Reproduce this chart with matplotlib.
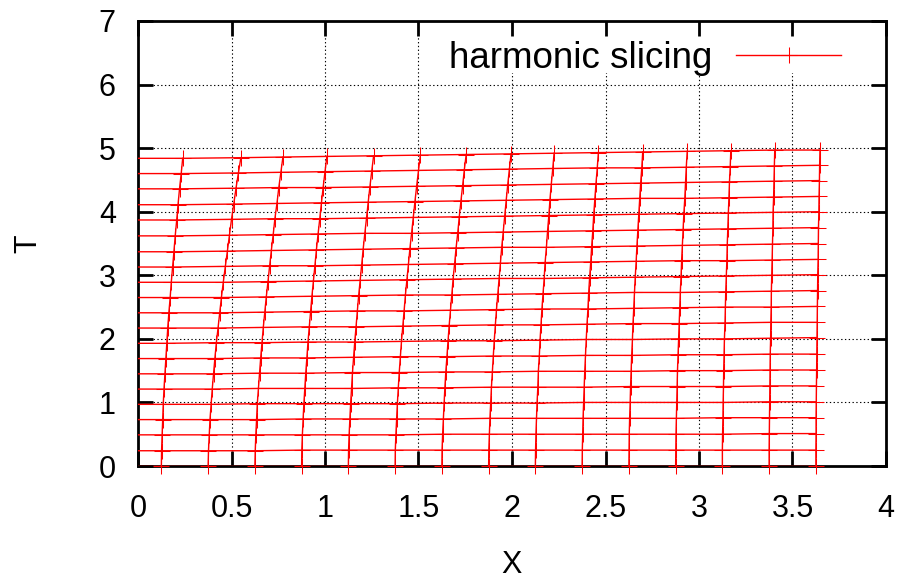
import numpy as np
import matplotlib.pyplot as plt
from matplotlib.patches import Rectangle

plt.rcParams['font.family'] = ['Liberation Sans', 'DejaVu Sans']

# world lines: X of each grid column at every slice (row 0 = T 0 ... row 20 = last slice)
# column 0 is the ghost point on the other side of X = 0
xcols = [
    [-0.125, -0.126, -0.129, -0.132, -0.135, -0.139, -0.144, -0.149, -0.154, -0.159, -0.165, -0.172, -0.178, -0.185, -0.192, -0.199, -0.207, -0.214, -0.222, -0.231, -0.239],
    [0.125, 0.126, 0.129, 0.132, 0.135, 0.139, 0.144, 0.149, 0.154, 0.159, 0.165, 0.172, 0.178, 0.185, 0.192, 0.199, 0.207, 0.214, 0.222, 0.231, 0.239],
    [0.375, 0.377, 0.381, 0.385, 0.391, 0.397, 0.404, 0.411, 0.419, 0.428, 0.437, 0.446, 0.456, 0.467, 0.478, 0.489, 0.500, 0.512, 0.524, 0.537, 0.550],
    [0.625, 0.627, 0.630, 0.634, 0.638, 0.644, 0.650, 0.656, 0.663, 0.670, 0.678, 0.686, 0.695, 0.704, 0.713, 0.723, 0.732, 0.743, 0.753, 0.764, 0.775],
    [0.875, 0.876, 0.879, 0.883, 0.887, 0.892, 0.897, 0.903, 0.909, 0.916, 0.923, 0.930, 0.938, 0.946, 0.954, 0.963, 0.972, 0.981, 0.990, 1.000, 1.010],
    [1.125, 1.126, 1.129, 1.133, 1.137, 1.142, 1.147, 1.153, 1.159, 1.166, 1.173, 1.180, 1.188, 1.196, 1.204, 1.213, 1.222, 1.231, 1.240, 1.250, 1.260],
    [1.375, 1.376, 1.379, 1.383, 1.387, 1.392, 1.397, 1.403, 1.409, 1.416, 1.423, 1.430, 1.438, 1.446, 1.454, 1.463, 1.472, 1.481, 1.490, 1.500, 1.510],
    [1.625, 1.626, 1.629, 1.633, 1.637, 1.641, 1.646, 1.652, 1.658, 1.664, 1.671, 1.678, 1.685, 1.693, 1.701, 1.710, 1.718, 1.727, 1.736, 1.745, 1.755],
    [1.875, 1.876, 1.879, 1.882, 1.886, 1.890, 1.895, 1.900, 1.905, 1.911, 1.917, 1.924, 1.931, 1.938, 1.945, 1.953, 1.961, 1.969, 1.977, 1.986, 1.995],
    [2.125, 2.126, 2.128, 2.131, 2.134, 2.138, 2.141, 2.146, 2.150, 2.155, 2.160, 2.166, 2.172, 2.177, 2.184, 2.190, 2.197, 2.203, 2.210, 2.218, 2.225],
    [2.375, 2.376, 2.378, 2.380, 2.383, 2.386, 2.389, 2.393, 2.397, 2.401, 2.406, 2.410, 2.415, 2.421, 2.426, 2.432, 2.437, 2.443, 2.449, 2.456, 2.462],
    [2.625, 2.626, 2.627, 2.629, 2.632, 2.634, 2.637, 2.640, 2.644, 2.647, 2.651, 2.655, 2.659, 2.664, 2.668, 2.673, 2.678, 2.683, 2.688, 2.694, 2.699],
    [2.875, 2.876, 2.877, 2.879, 2.881, 2.883, 2.885, 2.888, 2.891, 2.894, 2.897, 2.900, 2.904, 2.907, 2.911, 2.915, 2.919, 2.924, 2.928, 2.932, 2.937],
    [3.125, 3.125, 3.126, 3.128, 3.129, 3.131, 3.132, 3.134, 3.136, 3.139, 3.141, 3.143, 3.146, 3.149, 3.151, 3.154, 3.157, 3.160, 3.163, 3.167, 3.170],
    [3.375, 3.375, 3.376, 3.377, 3.378, 3.379, 3.380, 3.381, 3.383, 3.384, 3.386, 3.387, 3.389, 3.391, 3.393, 3.395, 3.396, 3.399, 3.401, 3.403, 3.405],
    [3.625, 3.625, 3.626, 3.626, 3.627, 3.628, 3.629, 3.630, 3.631, 3.632, 3.633, 3.634, 3.635, 3.637, 3.638, 3.639, 3.641, 3.642, 3.644, 3.645, 3.647],
]

# slices: T of each grid point along a slice (columns 0..15)
trows = [
    [0.00] * 16,
    [0.24, 0.24, 0.24, 0.24, 0.25, 0.25, 0.25, 0.25, 0.25, 0.25, 0.25, 0.25, 0.25, 0.25, 0.25, 0.25],
    [0.49, 0.49, 0.49, 0.49, 0.49, 0.49, 0.49, 0.50, 0.50, 0.50, 0.50, 0.50, 0.50, 0.50, 0.51, 0.51],
    [0.73, 0.73, 0.73, 0.73, 0.74, 0.74, 0.74, 0.74, 0.75, 0.75, 0.75, 0.75, 0.75, 0.76, 0.76, 0.76],
    [0.97, 0.97, 0.97, 0.98, 0.98, 0.98, 0.98, 0.99, 0.99, 0.99, 1.00, 1.00, 1.00, 1.00, 1.01, 1.01],
    [1.21, 1.21, 1.21, 1.22, 1.22, 1.22, 1.23, 1.23, 1.24, 1.24, 1.24, 1.25, 1.25, 1.25, 1.26, 1.26],
    [1.45, 1.45, 1.45, 1.46, 1.46, 1.47, 1.47, 1.48, 1.48, 1.49, 1.49, 1.49, 1.50, 1.50, 1.51, 1.51],
    [1.69, 1.69, 1.69, 1.70, 1.70, 1.71, 1.72, 1.72, 1.73, 1.73, 1.74, 1.74, 1.75, 1.75, 1.76, 1.76],
    [1.93, 1.93, 1.94, 1.94, 1.95, 1.95, 1.96, 1.97, 1.97, 1.98, 1.99, 1.99, 2.00, 2.00, 2.01, 2.02],
    [2.17, 2.17, 2.17, 2.18, 2.19, 2.19, 2.20, 2.21, 2.22, 2.22, 2.23, 2.24, 2.24, 2.25, 2.26, 2.26],
    [2.41, 2.41, 2.41, 2.42, 2.43, 2.44, 2.44, 2.45, 2.46, 2.47, 2.47, 2.48, 2.49, 2.50, 2.50, 2.51],
    [2.65, 2.65, 2.65, 2.66, 2.67, 2.68, 2.69, 2.69, 2.70, 2.71, 2.72, 2.73, 2.73, 2.74, 2.75, 2.76],
    [2.89, 2.89, 2.89, 2.90, 2.91, 2.92, 2.93, 2.94, 2.95, 2.95, 2.96, 2.97, 2.98, 2.99, 3.00, 3.01],
    [3.13, 3.13, 3.14, 3.15, 3.15, 3.16, 3.17, 3.18, 3.19, 3.20, 3.21, 3.22, 3.23, 3.23, 3.24, 3.25],
    [3.37, 3.37, 3.38, 3.39, 3.40, 3.41, 3.42, 3.43, 3.44, 3.44, 3.45, 3.46, 3.47, 3.48, 3.49, 3.50],
    [3.62, 3.62, 3.63, 3.64, 3.65, 3.66, 3.66, 3.67, 3.68, 3.69, 3.70, 3.71, 3.72, 3.73, 3.74, 3.75],
    [3.87, 3.87, 3.88, 3.89, 3.89, 3.90, 3.91, 3.92, 3.93, 3.94, 3.95, 3.96, 3.97, 3.98, 3.99, 4.00],
    [4.11, 4.11, 4.12, 4.13, 4.14, 4.15, 4.16, 4.17, 4.18, 4.19, 4.20, 4.21, 4.21, 4.22, 4.23, 4.24],
    [4.36, 4.36, 4.37, 4.38, 4.38, 4.39, 4.40, 4.41, 4.42, 4.43, 4.44, 4.45, 4.46, 4.47, 4.48, 4.49],
    [4.60, 4.60, 4.61, 4.62, 4.63, 4.64, 4.65, 4.66, 4.67, 4.68, 4.69, 4.69, 4.70, 4.71, 4.72, 4.73],
    [4.84, 4.84, 4.85, 4.86, 4.87, 4.88, 4.89, 4.90, 4.91, 4.92, 4.93, 4.94, 4.95, 4.96, 4.97, 4.97],
]

xticks = [0, 0.5, 1, 1.5, 2, 2.5, 3, 3.5, 4]
xticklabels = ['0', '0.5', '1', '1.5', '2', '2.5', '3', '3.5', '4']
yticks = [0, 1, 2, 3, 4, 5, 6, 7]

X = np.array(xcols).T   # shape (rows, cols)
T = np.array(trows)

FS = 22
fig = plt.figure(figsize=(9.02, 5.78), dpi=100)
ax = fig.add_axes([138 / 902, 1 - 466 / 578, 748 / 902, 445 / 578])
ax.set_xlim(0, 4)
ax.set_ylim(0, 7)

# dotted grid drawn by hand so the key box can blank it
gridstyle = dict(color='black', lw=0.8, linestyle=(0, (1.2, 2.2)), zorder=1.0)
for xv in xticks[1:-1]:
    ax.axvline(xv, **gridstyle)
for yv in yticks[1:-1]:
    ax.axhline(yv, **gridstyle)
# opaque key area
ax.add_patch(Rectangle((1.56, 6.18), 2.28, 0.9, facecolor='white',
                       edgecolor='none', zorder=1.2))

red = '#ff0000'
# slices
for i in range(X.shape[0]):
    ax.plot(X[i], T[i], color=red, lw=1.0, zorder=3)
# world lines
for k in range(X.shape[1]):
    ax.plot(X[:, k], T[:, k], color=red, lw=1.0, zorder=3)
# points (only those inside the x range, not clipped at the frame)
inside = X >= 0
ax.plot(X[inside], T[inside], ls='none', marker='+', ms=12, mew=0.75,
        color=red, clip_on=False, zorder=3)

h, = ax.plot([], [], color=red, lw=1.0, marker='+', ms=12, mew=0.75)

ax.set_xticks(xticks)
ax.set_xticklabels(xticklabels)
ax.set_yticks(yticks)

for s in ax.spines.values():
    s.set_linewidth(2.0)
ax.tick_params(direction='in', length=11, width=2, top=True, right=True,
               labelsize=FS)
ax.tick_params(axis='x', pad=20)
ax.tick_params(axis='y', pad=16)

ax.set_xlabel('X', fontsize=FS)
ax.set_ylabel('T', fontsize=FS)
ax.xaxis.set_label_coords(0.5, -0.188)
ax.yaxis.set_label_coords(-0.127, 0.5)

leg = ax.legend([h], ['harmonic slicing'], loc='upper right',
                bbox_to_anchor=(0.9497, 0.9717), markerfirst=False,
                frameon=False, fontsize=26.5,
                handlelength=2.85, handletextpad=0.65, borderpad=0.2,
                borderaxespad=0)

fig.savefig('out.png', dpi=100)
